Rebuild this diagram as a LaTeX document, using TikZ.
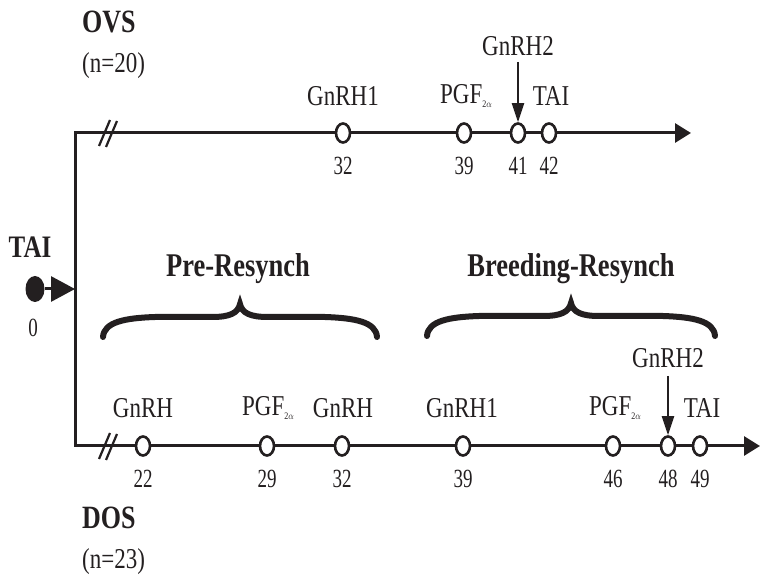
\documentclass[tikz,border=0pt]{standalone}
\usepackage{graphicx}
\usepackage{fontspec}
\setmainfont{Liberation Serif}
\usetikzlibrary{arrows.meta,shapes.geometric}
\definecolor{ink}{RGB}{35,31,32}
\newcommand\vst[1]{\scalebox{1}[1.25]{#1}}
\newcommand\vnum[1]{\scalebox{1}[1.38]{#1}}
\newcommand\pgfx{PGF\raisebox{-2.5pt}{\fontsize{8}{8}\selectfont 2$\alpha$}}
\begin{document}
\begin{tikzpicture}[x=1pt,y=-1pt,
  lab/.style={font=\fontsize{23}{23}\selectfont, inner sep=0pt, text=ink},
  num/.style={font=\fontsize{19}{19}\selectfont, inner sep=0pt, text=ink},
  ttl/.style={font=\fontsize{26}{26}\selectfont\bfseries, inner sep=0pt, anchor=west, text=ink},
  sub/.style={font=\fontsize{23}{23}\selectfont, inner sep=0pt, anchor=west, text=ink},
  phase/.style={font=\fontsize{26.5}{26.5}\selectfont\bfseries, inner sep=0pt, text=ink},
  ev/.style={ellipse, draw=ink, fill=white, line width=2.6pt, minimum width=14pt, minimum height=19pt, inner sep=0pt},
  axis/.style={draw=ink, line width=3pt},
  tiparrow/.style={-{Triangle[length=16pt,width=19pt]}},
  down/.style={draw=ink, line width=2.2pt, -{Triangle[length=19pt,width=12pt]}},
  brk/.style={draw=ink, line width=2.2pt},
  bracestyle/.style={draw=ink, line width=6pt, line cap=round, miter limit=20}]
\useasboundingbox (0,0) rectangle (761,577);

% axes
\coordinate (tl) at (75,133);
\coordinate (tr) at (691,133);
\coordinate (bl) at (75,446);
\coordinate (br) at (760,446);
\draw[axis, tiparrow] (tl) -- (tr);
\draw[axis, tiparrow] (bl) -- (br);
\draw[axis, line cap=rect] (tl) -- (bl);

% break marks
\coordinate (t1a) at (99,146); \coordinate (t1b) at (110,120);
\coordinate (t2a) at (106,147); \coordinate (t2b) at (117,121);
\draw[brk] (t1a) -- (t1b); \draw[brk] (t2a) -- (t2b);
\coordinate (b1a) at (99,459); \coordinate (b1b) at (110,433);
\coordinate (b2a) at (106,460); \coordinate (b2b) at (117,434);
\draw[brk] (b1a) -- (b1b); \draw[brk] (b2a) -- (b2b);

% TAI day 0
\node[ellipse, fill=ink, minimum width=19pt, minimum height=26pt, inner sep=0pt] (tai0) at (35,289) {};
\coordinate (tai0end) at (75,289);
\draw[draw=ink, line width=3pt, -{Triangle[length=24pt,width=25pt]}] (tai0) -- (tai0end);
\node[font=\fontsize{25}{25}\selectfont\bfseries, inner sep=0pt, text=ink] (tailab) at (30,247) {\vst{TAI}};
\node[num] (zero) at (33,328) {\vnum{0}};

% titles
\node[ttl] (ovs) at (82,22) {\vst{OVS}};
\node[sub] (ovsn) at (82,66) {\vst{(n=20)}};
\node[ttl] (dos) at (82,518) {\vst{DOS}};
\node[sub] (dosn) at (82,562) {\vst{(n=23)}};

% OVS events
\node[ev] (o32) at (343,133) {};
\node[ev] (o39) at (464,133) {};
\node[ev] (o41) at (518,133) {};
\node[ev] (o42) at (549,133) {};
\node[lab] (lo32) at (343,96) {\vst{GnRH1}};
\node[lab] (lo39) at (466,96) {\vst{\pgfx}};
\node[lab] (lo42) at (551,96) {\vst{TAI}};
\node[lab] (lo41) at (518,46) {\vst{GnRH2}};
\coordinate (o41top) at (518,62);
\draw[down] (o41top) -- (o41);
\node[num] (no32) at (343,166) {\vnum{32}};
\node[num] (no39) at (464,166) {\vnum{39}};
\node[num] (no41) at (518,166) {\vnum{41}};
\node[num] (no42) at (549,166) {\vnum{42}};

% DOS events
\node[ev] (d22) at (143,446) {};
\node[ev] (d29) at (267,446) {};
\node[ev] (d32) at (342,446) {};
\node[ev] (d39) at (463,446) {};
\node[ev] (d46) at (613,446) {};
\node[ev] (d48) at (668,446) {};
\node[ev] (d49) at (700,446) {};
\node[lab] (ld22) at (143,408) {\vst{GnRH}};
\node[lab] (ld29) at (268,408) {\vst{\pgfx}};
\node[lab] (ld32) at (343,408) {\vst{GnRH}};
\node[lab] (ld39) at (462,408) {\vst{GnRH1}};
\node[lab] (ld46) at (615,408) {\vst{\pgfx}};
\node[lab] (ld49) at (702,408) {\vst{TAI}};
\node[lab] (ld48) at (668,358) {\vst{GnRH2}};
\coordinate (d48top) at (668,376);
\draw[down] (d48top) -- (d48);
\node[num] (nd22) at (143,479) {\vnum{22}};
\node[num] (nd29) at (267,479) {\vnum{29}};
\node[num] (nd32) at (342,479) {\vnum{32}};
\node[num] (nd39) at (463,479) {\vnum{39}};
\node[num] (nd46) at (613,479) {\vnum{46}};
\node[num] (nd48) at (668,479) {\vnum{48}};
\node[num] (nd49) at (700,479) {\vnum{49}};

% braces
\draw[bracestyle] (103,337) .. controls (104,322) and (125,318) .. (155,317) -- (212,317)
  .. controls (230,317) and (238,313) .. (240,304)
  .. controls (242,313) and (250,317) .. (268,317) -- (325,317)
  .. controls (355,318) and (376,322) .. (377,337);
\node[phase] (pre) at (238,269) {\vst{Pre-Resynch}};
\draw[bracestyle] (427,336) .. controls (428,321) and (449,317) .. (479,316) -- (543,316)
  .. controls (561,316) and (569,312) .. (571,303)
  .. controls (573,312) and (581,316) .. (599,316) -- (663,316)
  .. controls (693,317) and (714,321) .. (715,336);
\node[phase] (breed) at (571,269) {\vst{Breeding-Resynch}};
\end{tikzpicture}
\end{document}
